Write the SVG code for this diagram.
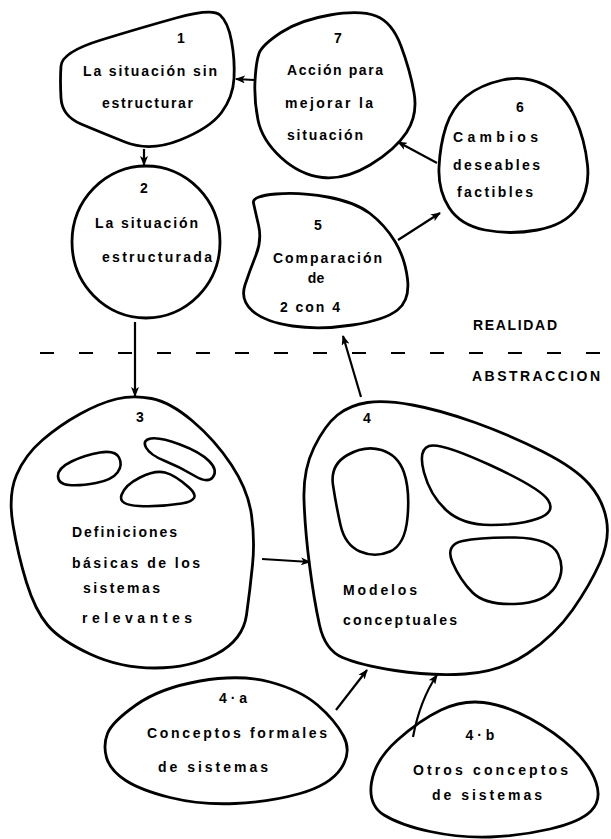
<svg xmlns="http://www.w3.org/2000/svg" width="611" height="839" viewBox="0 0 611 839">
<style>
.b{fill:none;stroke:#000;stroke-width:2.8;stroke-linejoin:round}
.i{fill:none;stroke:#000;stroke-width:2.6;stroke-linejoin:round}
.t{font-family:"Liberation Sans",Arial,sans-serif;font-weight:bold;font-size:14px;fill:#000}
.n{font-family:"Liberation Sans",Arial,sans-serif;font-weight:bold;font-size:14px;fill:#000;text-anchor:middle}
.c{fill:none;stroke:#000;stroke-width:2.2;marker-end:url(#ah)}
</style>
<defs>
<marker id="ah" viewBox="0 0 10 8" refX="9" refY="4" markerWidth="10" markerHeight="8" markerUnits="userSpaceOnUse" orient="auto">
<path d="M0,0 L10,4 L0,8 L2.5,4 Z" fill="#000"/>
</marker>
</defs>
<rect width="611" height="839" fill="#fff"/>

<g id="node1">
<path class="b" d="M101,40 Q140,28 176,18 Q212,8 220,15 Q228,22 231.5,41 Q235,60 234,78.5 Q233,97 221.5,112.5 Q210,128 180,140 Q150,152 125,142 Q100,132 81,124 Q62,116 61,98 Q60,80 61,66 Q62,52 101,40 Z"/>
<text class="n" x="181" y="43">1</text>
<text class="t" x="83" y="76" textLength="134" lengthAdjust="spacing">La situación sin</text>
<text class="t" x="102" y="108" textLength="91" lengthAdjust="spacing">estructurar</text>
</g>

<g id="node2">
<ellipse class="b" cx="146" cy="242" rx="74" ry="76"/>
<text class="n" x="144" y="193">2</text>
<text class="t" x="95" y="228" textLength="103" lengthAdjust="spacing">La situación</text>
<text class="t" x="102" y="262" textLength="110" lengthAdjust="spacing">estructurada</text>
</g>

<g id="node7">
<path class="b" d="M281,32.5 Q300,20 330,15 Q360,10 376,16 Q392,22 401,46 Q410,70 414,92.5 Q418,115 406.5,132.5 Q395,150 370,165 Q345,180 322.5,177.5 Q300,175 281,157.5 Q262,140 258,120 Q254,100 255,81 Q256,62 259,53.5 Q262,45 281,32.5 Z"/>
<text class="n" x="338" y="43">7</text>
<text class="t" x="287" y="75" textLength="96" lengthAdjust="spacing">Acción para</text>
<text class="t" x="285" y="108" textLength="88" lengthAdjust="spacing">mejorar la</text>
<text class="t" x="287" y="140" textLength="76" lengthAdjust="spacing">situación</text>
</g>

<g id="node6">
<path class="b" d="M502.5,80 Q525,75 545,85 Q565,95 575,117.5 Q585,140 587.5,165 Q590,190 577.5,207.5 Q565,225 537.5,230 Q510,235 485,230 Q460,225 449,207.5 Q438,190 439,167.5 Q440,145 446,126.5 Q452,108 466,96.5 Q480,85 502.5,80 Z"/>
<text class="n" x="520" y="112">6</text>
<text class="t" x="453" y="142" textLength="85" lengthAdjust="spacing">Cambios</text>
<text class="t" x="453" y="170" textLength="87" lengthAdjust="spacing">deseables</text>
<text class="t" x="457" y="197" textLength="76" lengthAdjust="spacing">factibles</text>
</g>

<g id="node5">
<path class="b" d="M276,194 Q300,192 327.5,197 Q355,202 370,213.5 Q385,225 395,241.5 Q405,258 407.5,279 Q410,300 397.5,310 Q385,320 352.5,325 Q320,330 292.5,326 Q265,322 252.5,311 Q240,300 245,285 Q250,270 256,255 Q262,240 258.5,225 Q255,210 253.5,203 Q252,196 276,194 Z"/>
<text class="n" x="318" y="230">5</text>
<text class="t" x="273" y="263" textLength="109" lengthAdjust="spacing">Comparación</text>
<text class="n" x="316" y="283">de</text>
<text class="t" x="280" y="312" textLength="60" lengthAdjust="spacing">2 con 4</text>
</g>

<g id="labels">
<line x1="40" y1="353" x2="606" y2="353" stroke="#000" stroke-width="2" stroke-dasharray="14 25"/>
<text class="t" x="473" y="330" textLength="84" lengthAdjust="spacing">REALIDAD</text>
<text class="t" x="472" y="381" textLength="128" lengthAdjust="spacing">ABSTRACCION</text>
</g>

<g id="node3">
<path class="b" d="M151.5,398.5 Q170,402 192.5,421 Q215,440 231.5,465 Q248,490 251.5,515 Q255,540 252.5,565 Q250,590 246.5,615 Q243,640 216.5,654 Q190,668 155,668 Q120,668 90,654 Q60,640 47.5,625 Q35,610 26.5,582.5 Q18,555 13,525 Q8,495 16.5,475 Q25,455 42.5,440 Q60,425 80,414 Q100,403 116.5,399 Q133,395 151.5,398.5 Z"/>
<path class="i" d="M71.5,461.5 Q85,455 100,452.5 Q115,450 119,457.5 Q123,465 117.5,472.5 Q112,480 96,483 Q80,486 69,485 Q58,484 58,476 Q58,468 71.5,461.5 Z"/>
<path class="i" d="M151,438.5 Q160,437 180,444.5 Q200,452 209,461 Q218,470 213,477 Q208,484 194,475.5 Q180,467 165,461 Q150,455 146,447.5 Q142,440 151,438.5 Z"/>
<path class="i" d="M140,477.5 Q155,470 165,472.5 Q175,475 189,487.5 Q203,500 181.5,503.5 Q160,507 139,506 Q118,505 121.5,495 Q125,485 140,477.5 Z"/>
<text class="n" x="140" y="422">3</text>
<text class="t" x="72" y="537" textLength="105" lengthAdjust="spacing">Definiciones</text>
<text class="t" x="72" y="568" textLength="128" lengthAdjust="spacing">básicas de los</text>
<text class="t" x="83" y="593" textLength="77" lengthAdjust="spacing">sistemas</text>
<text class="t" x="82" y="623" textLength="110" lengthAdjust="spacing">relevantes</text>
</g>

<g id="node4">
<path class="b" d="M412.5,405 Q440,410 475,422.5 Q510,435 542.5,451.5 Q575,468 589,484 Q603,500 606.5,520 Q610,540 600,562.5 Q590,585 572.5,610 Q555,635 527.5,653.5 Q500,672 465,674 Q430,676 395,670.5 Q360,665 342.5,657.5 Q325,650 319.5,625 Q314,600 309.5,565 Q305,530 304,500 Q303,470 314,447.5 Q325,425 337.5,415 Q350,405 367.5,402.5 Q385,400 412.5,405 Z"/>
<path class="i" d="M347.5,455 Q365,445 381.5,450 Q398,455 404,472.5 Q410,490 407.5,517.5 Q405,545 390,551.5 Q375,558 360,551.5 Q345,545 340.5,525 Q336,505 333,485 Q330,465 347.5,455 Z"/>
<path class="i" d="M429,446 Q440,442 490,465 Q540,488 548,500 Q556,512 538,518.5 Q520,525 491,525 Q462,525 446,510 Q430,495 424,472.5 Q418,450 429,446 Z"/>
<path class="i" d="M462.5,541 Q480,537 515,537.5 Q550,538 558,554 Q566,570 555.5,586.5 Q545,603 515,604 Q485,605 472.5,592.5 Q460,580 452.5,562.5 Q445,545 462.5,541 Z"/>
<text class="n" x="367" y="423">4</text>
<text class="t" x="343" y="595" textLength="74" lengthAdjust="spacing">Modelos</text>
<text class="t" x="343" y="625" textLength="114" lengthAdjust="spacing">conceptuales</text>
</g>

<g id="node4a">
<path class="b" d="M136,705 Q160,688 200,681 Q240,674 270,682 Q300,690 317.5,705 Q335,720 343.5,736 Q352,752 341,768.5 Q330,785 300,793.5 Q270,802 235,803.5 Q200,805 170,797.5 Q140,790 125,780 Q110,770 106.5,757.5 Q103,745 107.5,733.5 Q112,722 136,705 Z"/>
<text class="n" x="233" y="703">4 · a</text>
<text class="t" x="147" y="738" textLength="180" lengthAdjust="spacing">Conceptos formales</text>
<text class="t" x="158" y="772" textLength="110" lengthAdjust="spacing">de sistemas</text>
</g>

<g id="node4b">
<path class="b" d="M397.5,740 Q420,720 441,710 Q462,700 483.5,702.5 Q505,705 530,718.5 Q555,732 572.5,748.5 Q590,765 596,782.5 Q602,800 591,811 Q580,822 550,829 Q520,836 490,837 Q460,838 430,831.5 Q400,825 384,815 Q368,805 371.5,782.5 Q375,760 397.5,740 Z"/>
<text class="n" x="480" y="740">4 · b</text>
<text class="t" x="413" y="775" textLength="155" lengthAdjust="spacing">Otros conceptos</text>
<text class="t" x="432" y="800" textLength="110" lengthAdjust="spacing">de sistemas</text>
</g>

<g id="connectors">
<path class="c" d="M144,149 L144,165"/>
<path class="c" d="M254,80 L236,79"/>
<path class="c" d="M437,163 L398,142"/>
<path class="c" d="M398,240 L440,213"/>
<path class="c" d="M135,322 L135,396"/>
<path class="c" d="M361,397 L343,336"/>
<path class="c" d="M262,559 L310,562"/>
<path class="c" d="M336,710 L367,670"/>
<path class="c" d="M413,737 Q420,700 437,675"/>
</g>
</svg>
